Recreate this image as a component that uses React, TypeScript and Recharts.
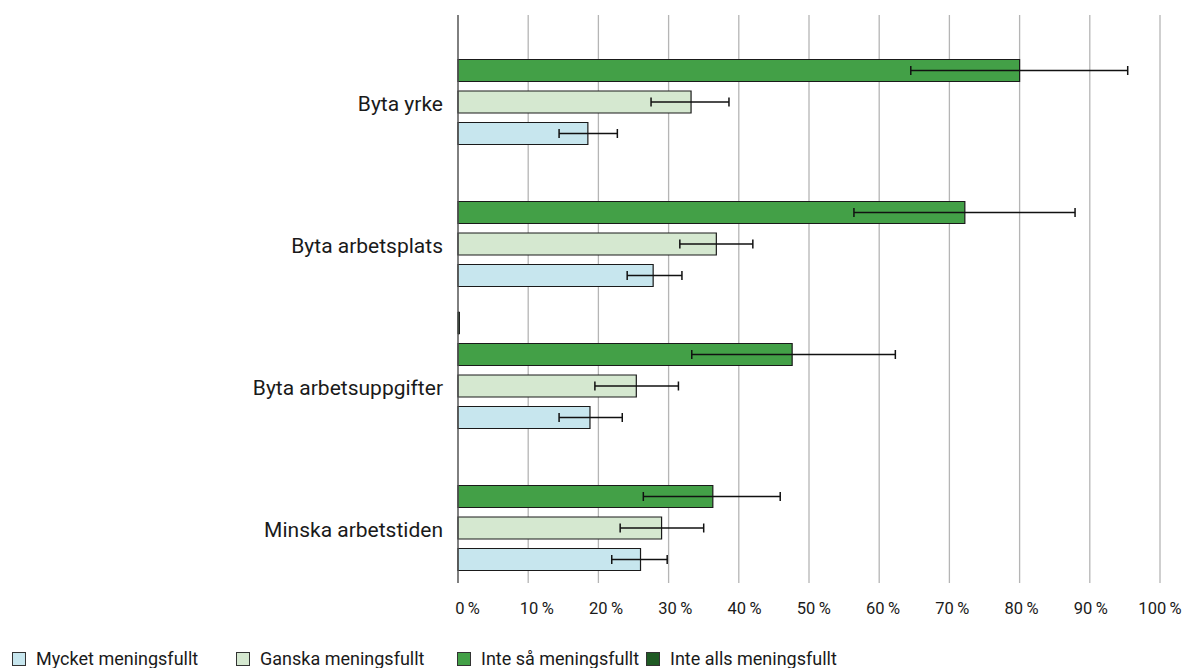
import React from 'react';
import {
  BarChart,
  Bar,
  XAxis,
  YAxis,
  CartesianGrid,
  ErrorBar,
} from 'recharts';

const categories = ['Byta yrke', 'Byta arbetsplats', 'Byta arbetsuppgifter', 'Minska arbetstiden'];

const seriesNames = ['Mycket meningsfullt', 'Ganska meningsfullt', 'Inte så meningsfullt', 'Inte alls meningsfullt'];

// värden i procent
const mycket = [18.5, 27.8, 18.8, 26.0];
const mycketLow = [14.4, 24.1, 14.4, 21.9];
const mycketHigh = [22.7, 31.9, 23.4, 29.8];

const ganska = [33.2, 36.8, 25.4, 29.0];
const ganskaLow = [27.5, 31.6, 19.5, 23.1];
const ganskaHigh = [38.6, 42.0, 31.4, 35.0];

const inteSa = [80.0, 72.2, 47.6, 36.3];
const inteSaLow = [64.5, 56.4, 33.3, 26.4];
const inteSaHigh = [95.4, 87.9, 62.3, 45.9];

const inteAlls = [0, 0, 0.2, 0];

const xTicks = [0, 10, 20, 30, 40, 50, 60, 70, 80, 90, 100];

const colors = ['#c7e6ee', '#d5e8d0', '#43a047', '#1f5a24'];

const data = categories.map((name, i) => ({
  name,
  mycket: mycket[i],
  mycketErr: [mycket[i] - mycketLow[i], mycketHigh[i] - mycket[i]],
  ganska: ganska[i],
  ganskaErr: [ganska[i] - ganskaLow[i], ganskaHigh[i] - ganska[i]],
  inteSa: inteSa[i],
  inteSaErr: [inteSa[i] - inteSaLow[i], inteSaHigh[i] - inteSa[i]],
  inteAlls: inteAlls[i],
}));

const legendLeft = [12, 236, 457, 646];

const CategoryTick = (props: any) => {
  const { x, y, payload } = props;
  return (
    <text x={x} y={y} dy={24.5} textAnchor="end" fill="#1a1a1a" fontSize={21}>
      {payload.value}
    </text>
  );
};

// etiketterna ligger lite förskjutna mot höger i originalet, mest vid 0 %
const PercentTick = (props: any) => {
  const { x, y, payload } = props;
  const shift = 9.5 * (1 - payload.value / 100);
  return (
    <text x={x + shift} y={y} dy="0.71em" textAnchor="middle" fill="#1a1a1a" fontSize={16.5}>
      {`${payload.value}\u2009%`}
    </text>
  );
};

const font = 'Roboto, "Noto Sans", sans-serif';

export default function App() {
  if (typeof document !== 'undefined') document.body.style.margin = '0';
  return (
    <div style={{ position: 'relative', width: 1193, height: 668, fontFamily: font, background: '#fff' }}>
      <BarChart
        width={1193}
        height={668}
        data={data}
        layout="vertical"
        margin={{ top: 15, right: 33, left: 0, bottom: 0 }}
        barSize={22}
        barGap={9.5}
      >
        <CartesianGrid horizontal={false} stroke="#b5b5b5" strokeWidth={1.3} />
        <XAxis
          type="number"
          domain={[0, 100]}
          ticks={xTicks}
          interval={0}
          height={85}
          axisLine={false}
          tickLine={false}
          tickMargin={13}
          tick={<PercentTick />}
        />
        <YAxis
          type="category"
          dataKey="name"
          width={458}
          axisLine={{ stroke: '#555', strokeWidth: 1.3 }}
          tickLine={false}
          tickMargin={9}
          tick={<CategoryTick />}
        />
        <Bar dataKey="inteAlls" fill={colors[3]} stroke="#111" strokeWidth={1} isAnimationActive={false} />
        <Bar dataKey="inteSa" fill={colors[2]} stroke="#1a1a1a" strokeWidth={1.2} isAnimationActive={false}>
          <ErrorBar dataKey="inteSaErr" direction="x" width={4.5} stroke="#111" strokeWidth={1.5} />
        </Bar>
        <Bar dataKey="ganska" fill={colors[1]} stroke="#1a1a1a" strokeWidth={1.2} isAnimationActive={false}>
          <ErrorBar dataKey="ganskaErr" direction="x" width={4.5} stroke="#111" strokeWidth={1.5} />
        </Bar>
        <Bar dataKey="mycket" fill={colors[0]} stroke="#1a1a1a" strokeWidth={1.2} isAnimationActive={false}>
          <ErrorBar dataKey="mycketErr" direction="x" width={4.5} stroke="#111" strokeWidth={1.5} />
        </Bar>
      </BarChart>
      {seriesNames.map((s, i) => (
        <div
          key={s}
          style={{
            position: 'absolute',
            left: legendLeft[i],
            top: 648,
            display: 'flex',
            alignItems: 'center',
            fontSize: 18,
            color: '#1a1a1a',
            whiteSpace: 'nowrap',
          }}
        >
          <span
            style={{
              display: 'inline-block',
              width: 12,
              height: 12,
              background: colors[i],
              border: '1px solid #333',
              marginRight: 10,
            }}
          />
          {s}
        </div>
      ))}
    </div>
  );
}
